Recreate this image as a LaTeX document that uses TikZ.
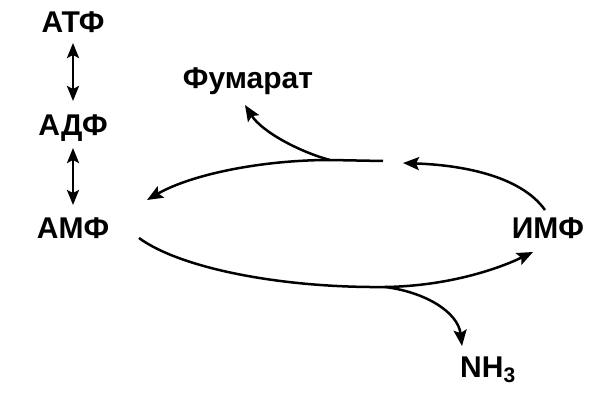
\documentclass[tikz,border=0pt]{standalone}
\usepackage{fontspec}
\setmainfont{Liberation Sans}
\usetikzlibrary{arrows.meta}
\begin{document}
\begin{tikzpicture}[x=1pt,y=-1pt,
  lbl/.style={font=\fontsize{30}{32}\selectfont\bfseries, inner sep=0pt},
  conn/.style={line width=2.5pt, -{Stealth[length=16pt,width=13pt,inset=3pt]}},
  dbl/.style={line width=2.5pt, {Stealth[length=15pt,width=12pt,inset=3pt]}-{Stealth[length=15pt,width=12pt,inset=3pt]}}]
\useasboundingbox (0,0) rectangle (600,410);
\node[lbl] (atp) at (73,22) {АТФ};
\node[lbl] (adp) at (73,128) {АДФ};
\node[lbl] (amp) at (73,228) {АМФ};
\node[lbl] (imp) at (548,228) {ИМФ};
\node[lbl] (fum) at (248,81) {Фумарат};
\node[lbl, anchor=west] (nh3) at (460,370) {NH\raisebox{-5pt}{\fontsize{21}{23}\selectfont 3}};
\coordinate (tr) at (383,161);
\coordinate (fb) at (330,160);
\coordinate (bb) at (385,287);
\coordinate (ampin) at (147,200);
\coordinate (ampout) at (139,238);
\coordinate (impout) at (545,210);
\coordinate (impin) at (533,252);
\coordinate (mid) at (403,163);
\draw[dbl, shorten <=21pt, shorten >=27pt] (atp.center) -- (adp.center);
\draw[dbl, shorten <=20pt, shorten >=23pt] (adp.center) -- (amp.center);
\draw[conn] (tr) -- (fb) .. controls (260,160) and (190,175) .. (ampin);
\draw[conn] (fb) .. controls (300,152) and (262,132) .. (245,105);
\draw[conn] (impout) .. controls (520,175) and (460,165) .. (mid);
\draw[conn] (ampout) .. controls (180,268) and (280,288) .. (bb) .. controls (450,286) and (500,268) .. (impin);
\draw[conn] (bb) .. controls (425,292) and (458,312) .. (462,346);
\end{tikzpicture}
\end{document}
